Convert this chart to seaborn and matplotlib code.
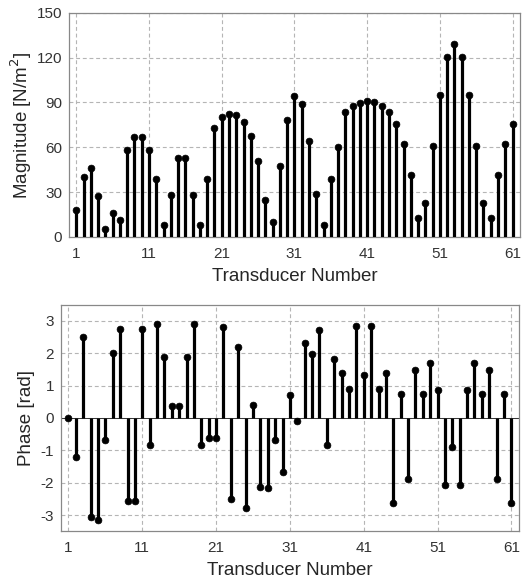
import numpy as np
import pandas as pd
import seaborn as sns
import matplotlib.pyplot as plt

sns.set_style("whitegrid")
plt.rcParams['font.family'] = ['Liberation Sans', 'DejaVu Sans']
plt.rcParams['axes.unicode_minus'] = False

transducer = list(range(1, 62))

magnitude = [18, 40, 46, 27.5, 5.5, 16, 11, 58.5, 67, 67,
             58.5, 38.7, 8, 28, 52.7, 52.7, 28, 8, 38.7, 73,
             80, 82.3, 81.5, 77.2, 67.8, 50.8, 24.8, 9.7, 47.2, 78.5,
             94.2, 88.9, 64.2, 28.7, 8.3, 38.9, 60.2, 83.5, 87.7, 89.9,
             90.9, 90.2, 87.7, 83.5, 75.6, 62.2, 41.6, 13, 22.6, 60.7,
             95.3, 120.4, 129.1, 120.4, 95.3, 60.7, 22.6, 13, 41.6, 62.2,
             75.6]

phase = [0, -1.2, 2.5, -3.06, -3.14, -0.69, 2.0, 2.76, -2.58, -2.58,
         2.76, -0.84, 2.92, 1.9, 0.36, 0.36, 1.9, 2.92, -0.84, -0.61,
         -0.61, 2.82, -2.51, 2.18, -2.79, 0.40, -2.14, -2.15, -0.69, -1.68,
         0.70, -0.09, 2.32, 1.99, 2.73, -0.85, 1.81, 1.40, 0.90, 2.84,
         1.33, 2.84, 0.91, 1.40, -2.62, 0.74, -1.89, 1.47, 0.73, 1.69,
         0.86, -2.06, -0.90, -2.06, 0.86, 1.69, 0.73, 1.47, -1.89, 0.74,
         -2.62]

df = pd.DataFrame({"Transducer": transducer, "Magnitude": magnitude, "Phase": phase})

fig = plt.figure(figsize=(5.31, 5.85), dpi=100)
ax1 = fig.add_axes([0.130, 0.595, 0.849, 0.383])
ax2 = fig.add_axes([0.115, 0.092, 0.862, 0.387])


def stem(ax, col):
    ax.vlines(df["Transducer"], 0, df[col], color="black", linewidth=2.3, zorder=3)
    sns.scatterplot(data=df, x="Transducer", y=col, ax=ax, color="black",
                    s=24, edgecolor="black", linewidth=0.5, zorder=4)


stem(ax1, "Magnitude")
stem(ax2, "Phase")
ax2.axhline(0, color="#333333", linewidth=0.7, zorder=2)

for ax in (ax1, ax2):
    ax.set_xlim(0, 62)
    ax.set_xticks(range(1, 62, 10))
    ax.grid(True, linestyle=(0, (3.5, 2.5)), color="#b5b5b5", linewidth=0.8)
    ax.set_axisbelow(True)
    for s in ax.spines.values():
        s.set_color("#888888")
        s.set_linewidth(0.9)
    ax.tick_params(labelsize=11, colors="#333333", length=0)
    ax.tick_params(axis="x", pad=7)
    ax.tick_params(axis="y", pad=5)
    ax.set_xlabel("Transducer Number", fontsize=13.5, color="#262626", labelpad=5)

ax1.set_ylim(0, 150)
ax1.set_yticks(range(0, 151, 30))
ax1.set_ylabel("Magnitude [N/m$^2$]", fontsize=13.5, color="#262626", labelpad=2)

ax2.set_ylim(-3.5, 3.5)
ax2.set_yticks(range(-3, 4))
ax2.set_ylabel("Phase [rad]", fontsize=13.5, color="#262626", labelpad=4)

fig.savefig("out.png", dpi=100)
